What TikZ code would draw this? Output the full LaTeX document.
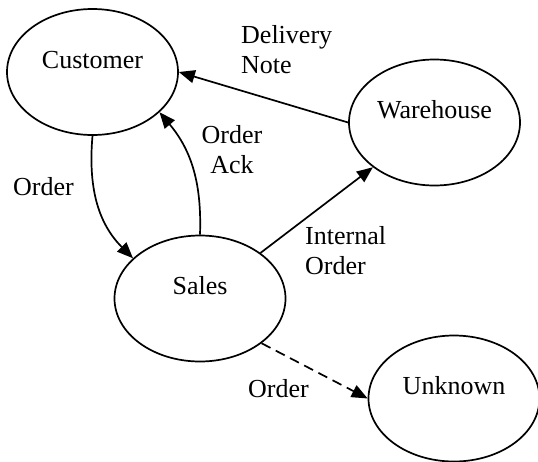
\documentclass[tikz,border=0pt]{standalone}
\usepackage{fontspec}
\setmainfont{Liberation Serif}
\usetikzlibrary{shapes.geometric,arrows.meta}

\tikzset{
  entity/.style={draw, ellipse, line width=1.7pt, inner sep=0pt,
    minimum width=171pt, minimum height=126pt,
    text height=17pt, text depth=25pt},
  flow/.style={line width=1.7pt, -{Triangle[length=16pt,width=13pt]}},
  flowdash/.style={flow, dash pattern=on 10pt off 6pt},
  tag/.style={inner sep=0pt, font=\fontsize{26}{30}\selectfont}
}

\begin{document}
\begin{tikzpicture}[x=1pt, y=-1pt, font=\fontsize{26}{30}\selectfont]
  \useasboundingbox (0,0) rectangle (538,461);

  % processes / external entities
  \node[entity] (cust) at (92.5,72)   {Customer};
  \node[entity] (ware) at (434.5,122.5) {Warehouse};
  \node[entity] (sale) at (200,298.5) {Sales};
  \node[entity] (unkn) at (454,398.5) {Unknown};

  % data flows
  \draw[flow] (ware.west) -- (cust.east);
  \draw[flow] (cust.south) to[out=-95, in=135] (sale.149);
  \draw[flow] (sale.north) to[out=88, in=-50] (cust.-31);
  \draw[flow] (sale.37) -- (ware.216);
  \draw[flowdash] (sale.-36) -- (unkn.west);

  % flow labels (multi-line nodes sit on the baseline of their last line)
  \node[tag, anchor=base west, align=left] (lbdel) at (241,73) {Delivery\\Note};
  \node[tag, anchor=base west] (lbord) at (13,195) {Order};
  \node[tag, anchor=base, align=center] (lback) at (232,173) {Order\\Ack};
  \node[tag, anchor=base west, align=left] (lbint) at (305,274) {Internal\\Order};
  \node[tag, anchor=base west] (lbunk) at (248,397) {Order};
\end{tikzpicture}
\end{document}
